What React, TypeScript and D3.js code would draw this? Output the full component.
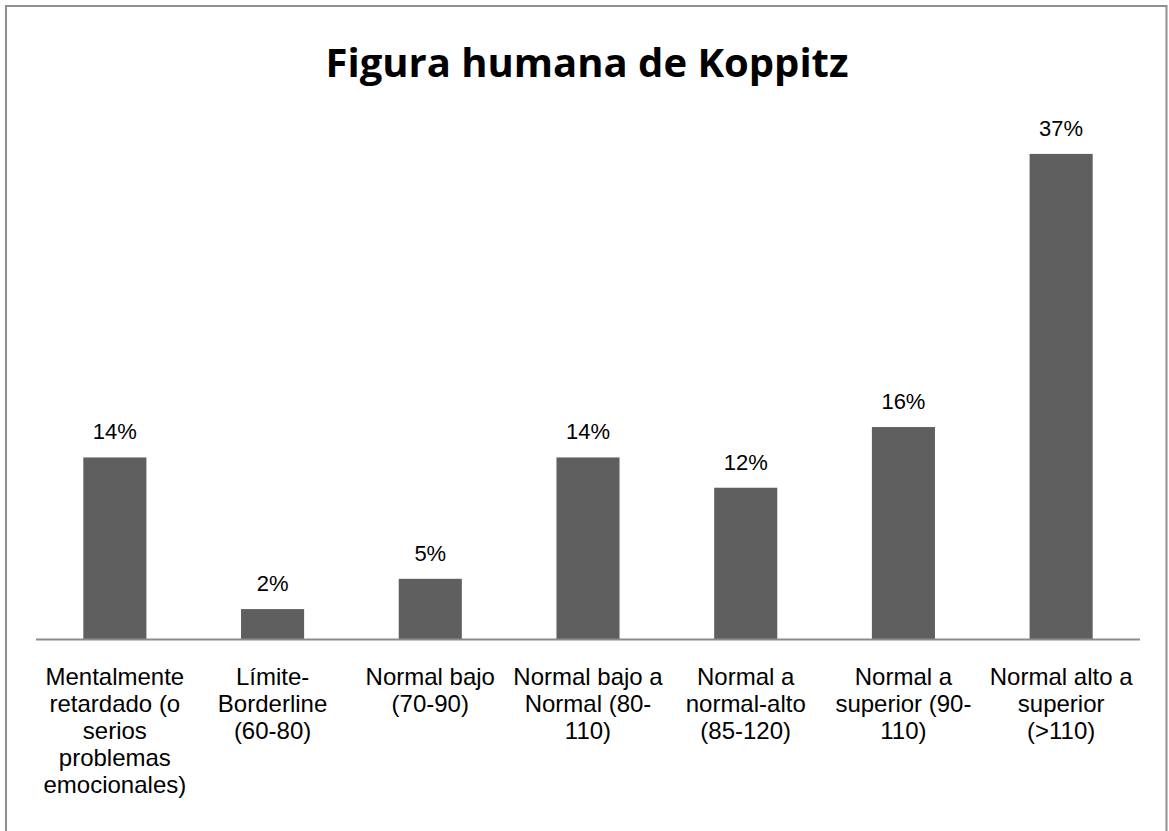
import React from "react";
import * as d3 from "d3";

const title = "Figura humana de Koppitz";
const categories: string[][] = [
  ["Mentalmente", "retardado (o", "serios", "problemas", "emocionales)"],
  ["Límite-", "Borderline", "(60-80)"],
  ["Normal bajo", "(70-90)"],
  ["Normal bajo a", "Normal (80-", "110)"],
  ["Normal a", "normal-alto", "(85-120)"],
  ["Normal a", "superior (90-", "110)"],
  ["Normal alto a", "superior", "(>110)"],
];
const values = [13.95, 2.33, 4.65, 13.95, 11.63, 16.28, 37.21];
const valueLabels = ["14%", "2%", "5%", "14%", "12%", "16%", "37%"];

const W = 1169;
const H = 831;
const TITLE_FONT = "'Open Sans', 'Noto Sans', sans-serif";
const FONT = "'Liberation Sans', Arial, sans-serif";

export default function App() {
  const keys = categories.map((c) => c.join(" "));
  const x = d3
    .scaleBand<string>()
    .domain(keys)
    .range([36, 1140])
    .paddingInner(0.6)
    .paddingOuter(0.3);
  const baseY = 639.5;
  const y = d3.scaleLinear().domain([0, 40]).range([baseY, baseY - 40 * 13.05]);

  return (
    <svg
      width={W}
      height={H}
      style={{ position: "absolute", left: 0, top: 0, display: "block", background: "#fff" }}
    >
      <rect x={6} y={6} width={1160.5} height={H + 10} fill="#fff" stroke="#8f8f8f" strokeWidth={2} />
      <text
        x={587}
        y={77}
        textAnchor="middle"
        fontFamily={TITLE_FONT}
        fontWeight={700}
        fontSize={40}
        fill="#000"
      >
        {title}
      </text>
      {values.map((v, i) => {
        const k = keys[i];
        const x0 = x(k)!;
        return (
          <g key={k}>
            <rect x={x0} y={y(v)} width={x.bandwidth()} height={baseY - y(v)} fill="#5f5f5f" />
            <text
              x={x0 + x.bandwidth() / 2}
              y={y(v) - 18}
              textAnchor="middle"
              fontFamily={FONT}
              fontSize={22}
              fill="#000"
            >
              {valueLabels[i]}
            </text>
            <text
              x={x0 + x.bandwidth() / 2}
              textAnchor="middle"
              fontFamily={FONT}
              fontSize={24}
              fill="#000"
            >
              {categories[i].map((line, j) => (
                <tspan key={j} x={x0 + x.bandwidth() / 2} y={685 + j * 27}>
                  {line}
                </tspan>
              ))}
            </text>
          </g>
        );
      })}
      <line x1={36} x2={1140} y1={baseY} y2={baseY} stroke="#8c8c8c" strokeWidth={2} />
    </svg>
  );
}
